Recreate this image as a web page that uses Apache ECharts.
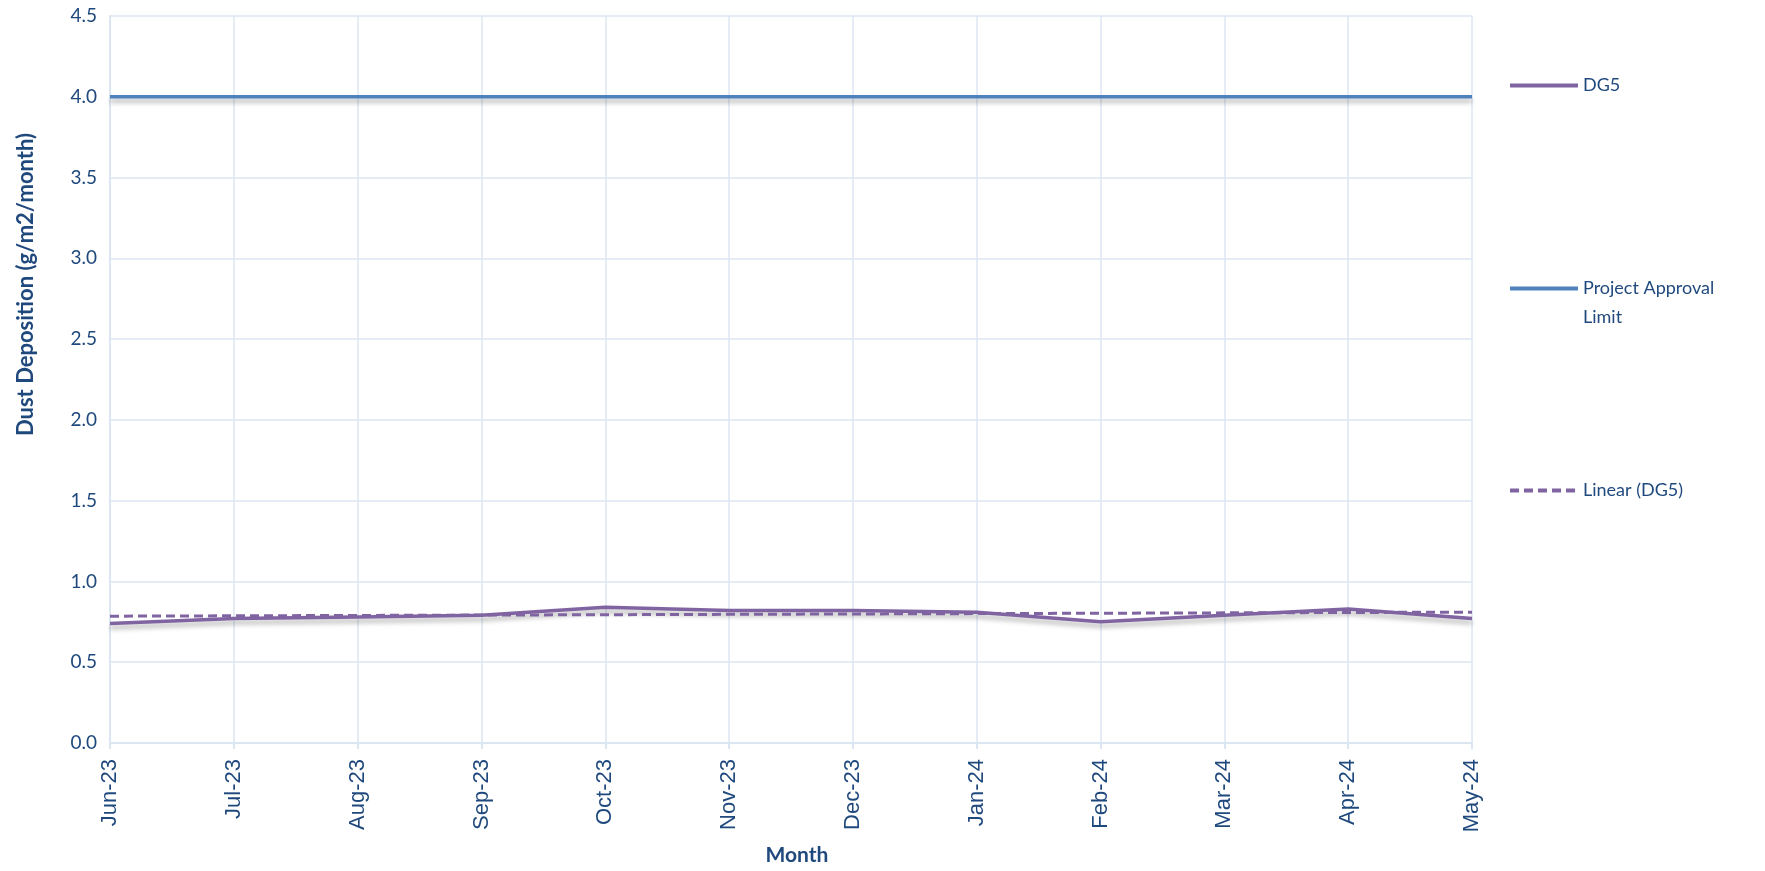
<!DOCTYPE html>
<html>
<head>
<meta charset="utf-8">
<script src="https://cdn.jsdelivr.net/npm/echarts@6/dist/echarts.min.js"></script>
<style>
  html, body { margin: 0; padding: 0; background: #fff; }
  #chart { width: 1765px; height: 871px; }
</style>
</head>
<body>
<div id="chart"></div>
<script>
// values
const months = ['Jun-23', 'Jul-23', 'Aug-23', 'Sep-23', 'Oct-23', 'Nov-23', 'Dec-23',
                'Jan-24', 'Feb-24', 'Mar-24', 'Apr-24', 'May-24'];
const dg5 = [0.74, 0.77, 0.78, 0.79, 0.84, 0.82, 0.82, 0.81, 0.75, 0.79, 0.83, 0.77];
const limit = [4.0, 4.0, 4.0, 4.0, 4.0, 4.0, 4.0, 4.0, 4.0, 4.0, 4.0, 4.0];
// trend line end points (Excel linear trendline)
const trend = [0.785, null, null, null, null, null, null, null, null, null, null, 0.81];

const textColor = '#1F497D';
const gridColor = '#DCE6F2';
const purple = '#8064A2';
const blue = '#4F81BD';
const shadow = { shadowColor: 'rgba(0,0,0,0.3)', shadowBlur: 5, shadowOffsetY: 4 };

const chart = echarts.init(document.getElementById('chart'));

function legendAt(name, top, fmt) {
    return {
        data: [name],
        orient: 'vertical',
        left: 1503,
        top: top,
        itemWidth: 68,
        itemHeight: 4,
        itemGap: 10,
        formatter: fmt,
        itemStyle: { opacity: 0 },
        lineStyle: { width: 4, shadowBlur: 0, shadowOffsetY: 0 },
        textStyle: { color: textColor, fontFamily: 'Lato', fontSize: 18, lineHeight: 29 }
    };
}

const option = {
    animation: false,
    legend: [
        legendAt('DG5', 66),
        legendAt('Project Approval Limit', 240, () => '\nProject Approval\nLimit'),
        legendAt('Linear (DG5)', 471)
    ],
    grid: { left: 110, right: 293, top: 16, bottom: 125 },
    xAxis: {
        type: 'category',
        data: months,
        boundaryGap: false,
        name: 'Month',
        nameLocation: 'middle',
        nameGap: 102,
        nameTextStyle: { color: textColor, fontFamily: 'Lato', fontWeight: 'bold', fontSize: 21, padding: [0, 0, 0, 12] },
        axisLine: { lineStyle: { color: gridColor, width: 2 } },
        axisTick: { show: true, length: 6, lineStyle: { color: gridColor, width: 2 } },
        axisLabel: { rotate: 90, margin: 16, color: textColor, fontFamily: 'Liberation Sans', fontSize: 22 },
        splitLine: { show: true, lineStyle: { color: gridColor, width: 1.5 } }
    },
    yAxis: {
        type: 'value',
        min: 0,
        max: 4.5,
        interval: 0.5,
        name: 'Dust Deposition (g/m2/month)',
        nameLocation: 'middle',
        nameGap: 73,
        nameTextStyle: { color: textColor, fontFamily: 'Lato', fontWeight: 'bold', fontSize: 22, padding: [0, 0, 0, 190] },
        axisLine: { show: true, lineStyle: { color: gridColor, width: 2 } },
        axisTick: { show: false },
        axisLabel: { margin: 13, color: textColor, fontFamily: 'Lato', fontSize: 19, formatter: v => v.toFixed(1) },
        splitLine: { show: true, lineStyle: { color: gridColor, width: 1.5 } }
    },
    series: [
        {
            name: 'DG5',
            type: 'line',
            data: dg5,
            symbol: 'none',
            itemStyle: { color: purple },
            lineStyle: Object.assign({ color: purple, width: 3.5 }, shadow),
            z: 3
        },
        {
            name: 'Project Approval Limit',
            type: 'line',
            data: limit,
            symbol: 'none',
            itemStyle: { color: blue },
            lineStyle: Object.assign({ color: blue, width: 3.5 }, shadow),
            z: 2
        },
        {
            name: 'Linear (DG5)',
            type: 'line',
            data: trend,
            connectNulls: true,
            symbol: 'none',
            itemStyle: { color: purple },
            lineStyle: { color: purple, width: 3, type: [9, 5] },
            z: 4
        }
    ]
};

chart.setOption(option);
</script>
</body>
</html>
